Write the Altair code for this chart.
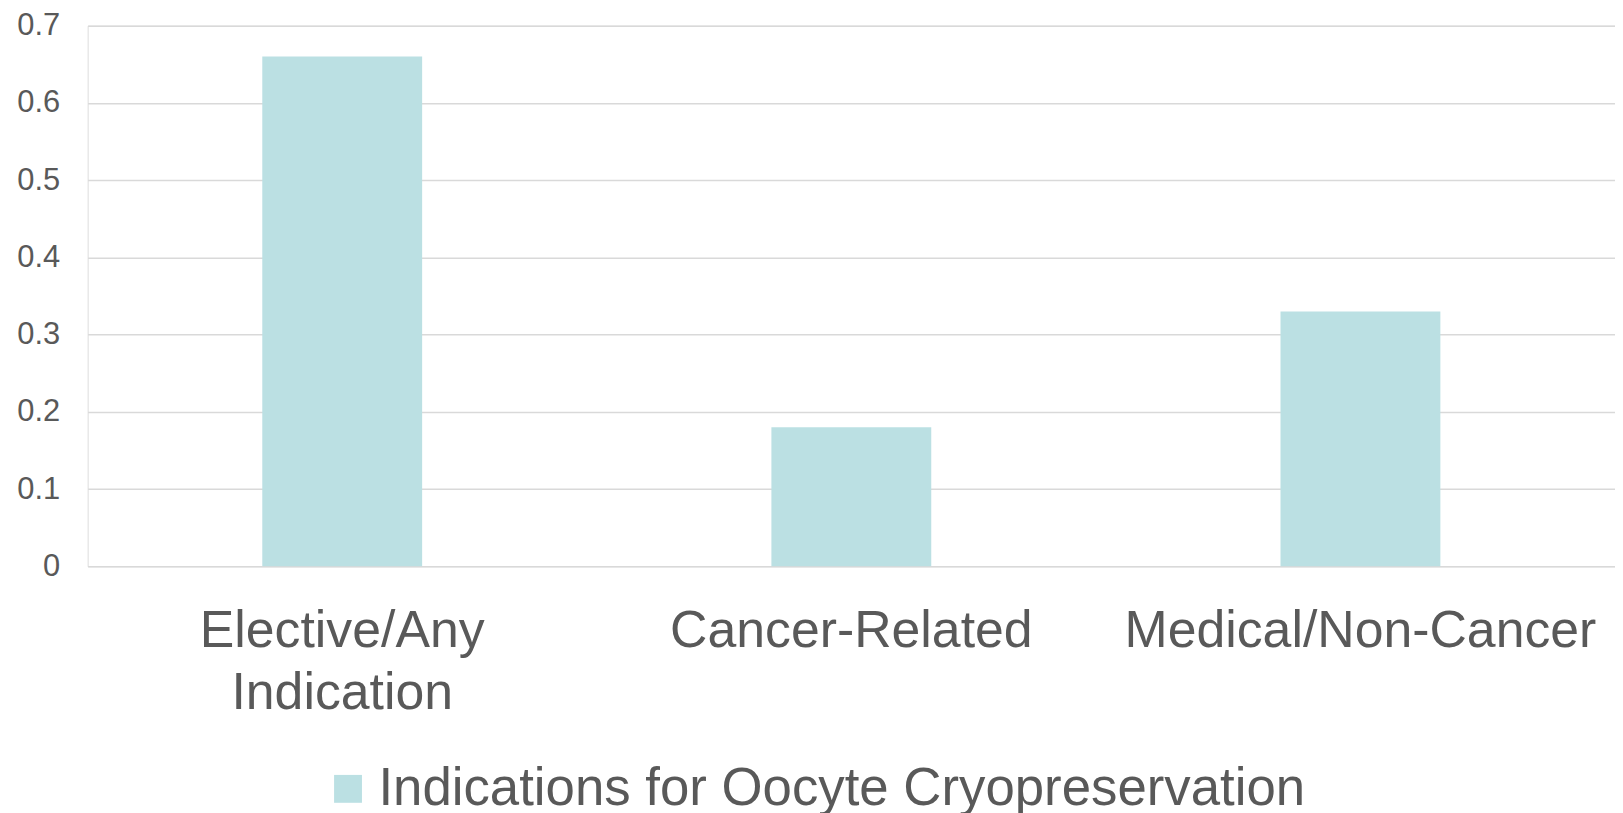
import altair as alt
import pandas as pd

categories = ["Elective/Any\nIndication", "Cancer-Related", "Medical/Non-Cancer"]
values = [0.66, 0.18, 0.33]
series_name = "Indications for Oocyte Cryopreservation"
y_ticks = [0, 0.1, 0.2, 0.3, 0.4, 0.5, 0.6, 0.7]

df = pd.DataFrame({"category": categories, "value": values, "series": [series_name] * len(categories)})

FONT = "Liberation Sans"
TEXT = "#595959"

chart = alt.Chart(df).mark_bar(color="#BBE0E3").encode(
    x=alt.X(
        "category:N",
        sort=categories,
        scale=alt.Scale(paddingInner=0.686, paddingOuter=0.343),
        axis=alt.Axis(
            title=None,
            labelAngle=0,
            labelFontSize=52,
            labelLineHeight=62,
            labelPadding=40,
            labelColor=TEXT,
            labelFont=FONT,
            labelLimit=2000,
            labelOverlap=False,
            ticks=False,
            domain=False,
            labelExpr="split(datum.label, '\\n')",
        ),
    ),
    y=alt.Y(
        "value:Q",
        scale=alt.Scale(domain=[0, 0.7], nice=False),
        axis=alt.Axis(
            title=None,
            values=y_ticks,
            labelExpr="datum.value == 0 ? '0' : format(datum.value, '.1f')",
            labelFontSize=31,
            labelColor=TEXT,
            labelFont=FONT,
            labelPadding=28,
            ticks=False,
            domain=False,
            gridColor="#D9D9D9",
            gridWidth=1.5,
        ),
    ),
    color=alt.Color(
        "series:N",
        scale=alt.Scale(domain=[series_name], range=["#BBE0E3"]),
        legend=alt.Legend(
            title=None,
            orient="none",
            legendX=235,
            legendY=740,
            symbolType="square",
            symbolSize=784,
            symbolStrokeWidth=0,
            labelFontSize=53,
            labelColor=TEXT,
            labelFont=FONT,
            labelOffset=4,
            labelLimit=3000,
            padding=0,
        ),
    ),
).properties(
    width=1534,
    height=543,
    autosize=alt.AutoSizeParams(type="none"),
    padding={"left": 80, "top": 16, "right": 0, "bottom": 246},
).configure_view(stroke=None).configure(background="white")

chart.save("out.html", embed_options={"renderer": "svg", "actions": False})
